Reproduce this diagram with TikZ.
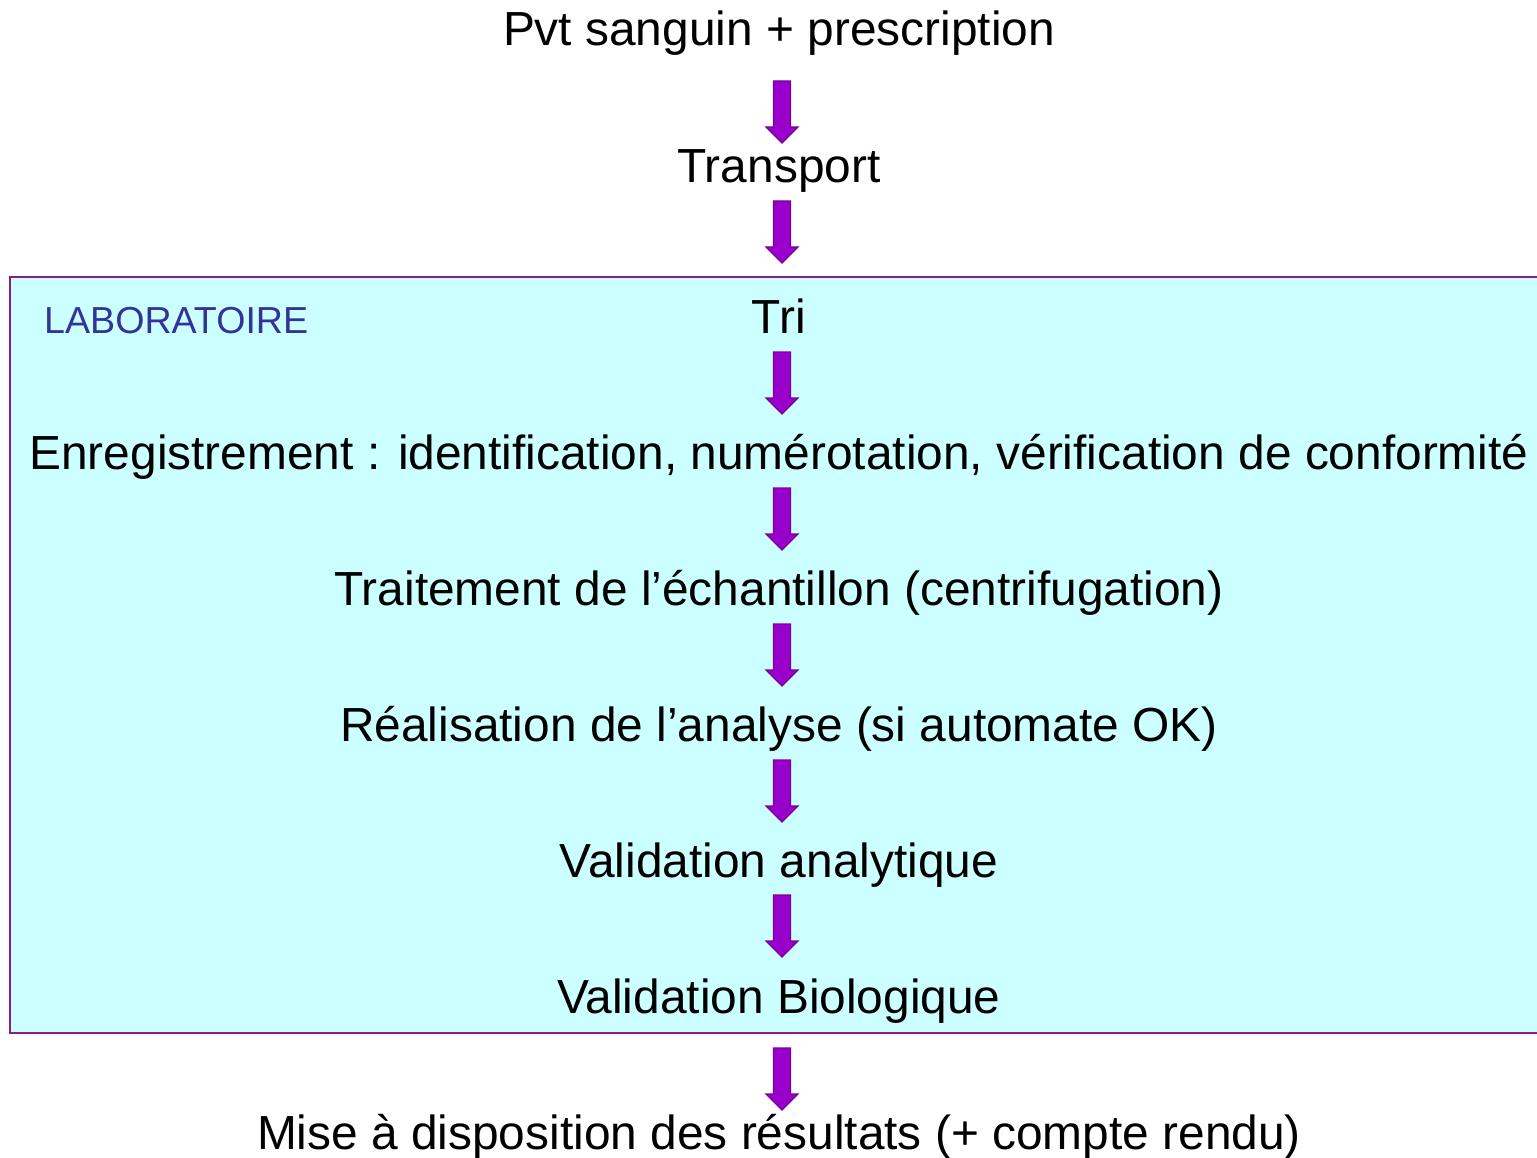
\documentclass[tikz,border=0pt]{standalone}
\usepackage{fontspec}
\setmainfont{Liberation Sans}
\definecolor{labfill}{HTML}{CCFFFF}
\definecolor{labborder}{HTML}{8B1A8B}
\definecolor{arrowfill}{HTML}{9900CC}
\definecolor{arrowborder}{HTML}{7A0099}
\definecolor{labtext}{HTML}{333399}
\tikzset{
  steptext/.style={anchor=base, inner sep=0pt, font=\fontsize{47.85}{57}\selectfont, text=black},
  blockarrow/.style={fill=arrowfill, draw=arrowborder, line width=1.2pt, line join=miter},
  labbox/.style={fill=labfill, draw=labborder, line width=2pt}
}
\newcommand{\downarrowat}[1]{%
  \draw[blockarrow] (773.5,#1) -- (790.5,#1) -- (790.5,#1+46) -- (798,#1+46) -- (782,#1+62)
    -- (766,#1+46) -- (773.5,#1+46) -- cycle;}
\begin{document}
\begin{tikzpicture}[x=1pt,y=-1pt]
\useasboundingbox (0,0) rectangle (1537,1158);
\fill[white] (0,0) rectangle (1537,1158);
\draw[labbox] (10,277) rectangle (1545,1033);
\node[anchor=base west, inner sep=0pt, text=labtext, font=\fontsize{37.6}{45}\selectfont] (lab) at (44,334) {LABORATOIRE};
\node[steptext] (pvt) at (779,46) {Pvt sanguin + prescription};
\node[steptext] (transport) at (779,183) {Transport};
\node[steptext] (tri) at (779,334) {Tri};
\node[steptext] (enreg) at (779,469) {Enregistrement : identification, numérotation, vérification de conformité};
\node[steptext] (trait) at (779,605) {Traitement de l’échantillon (centrifugation)};
\node[steptext] (real) at (779,741) {Réalisation de l’analyse (si automate OK)};
\node[steptext] (valana) at (779,877) {Validation analytique};
\node[steptext] (valbio) at (779,1013) {Validation Biologique};
\node[steptext] (mise) at (779,1149) {Mise à disposition des résultats (+ compte rendu)};
\downarrowat{81}
\downarrowat{201}
\downarrowat{352}
\downarrowat{488}
\downarrowat{624}
\downarrowat{760}
\downarrowat{895}
\downarrowat{1048}
\end{tikzpicture}
\end{document}
